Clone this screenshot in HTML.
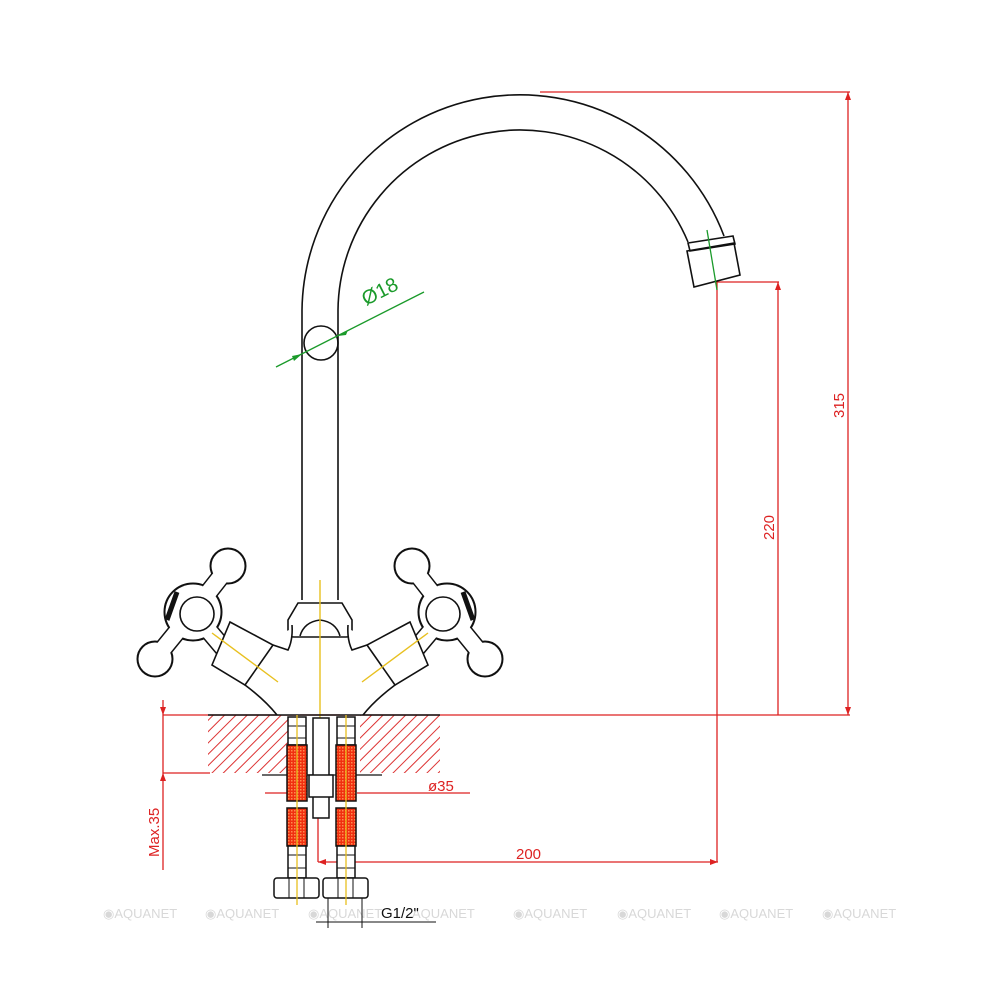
<!DOCTYPE html>
<html><head><style>
html,body{margin:0;padding:0;background:#fff;}
svg{display:block;}
text{font-family:"Liberation Sans",sans-serif;}
</style></head><body>
<svg width="1000" height="1000" viewBox="0 0 1000 1000" xmlns="http://www.w3.org/2000/svg">
<defs>
<pattern id="hatch" patternUnits="userSpaceOnUse" width="8" height="8" patternTransform="rotate(45)">
<line x1="0" y1="0" x2="0" y2="8" stroke="#d33" stroke-width="2"/>
</pattern>
<pattern id="mesh" patternUnits="userSpaceOnUse" width="3" height="3">
<rect width="3" height="3" fill="#f03010"/><rect width="1.5" height="1.5" fill="#ff8a50"/>
</pattern>
</defs>
<rect width="1000" height="1000" fill="#fff"/>

<!-- watermarks -->
<g fill="#d8d8d8" font-size="13">
<text x="103" y="918">◉AQUANET</text><text x="205" y="918">◉AQUANET</text>
<text x="308" y="918">◉AQUANET</text><text x="412" y="918">AQUANET</text>
<text x="513" y="918">◉AQUANET</text><text x="617" y="918">◉AQUANET</text>
<text x="719" y="918">◉AQUANET</text><text x="822" y="918">◉AQUANET</text>
</g>

<!-- hatch -->
<rect x="208" y="715" width="82" height="58" fill="url(#hatch)"/>
<rect x="360" y="715" width="80" height="58" fill="url(#hatch)"/>

<!-- red dims -->
<g stroke="#d22" stroke-width="1.3" fill="none">
<line x1="540" y1="92" x2="850" y2="92"/>
<line x1="848" y1="92" x2="848" y2="715"/>
<line x1="716" y1="282" x2="779" y2="282"/>
<line x1="778" y1="282" x2="778" y2="715"/>
<line x1="163" y1="715" x2="850" y2="715"/>
<line x1="717" y1="282" x2="717" y2="862"/>
<line x1="318" y1="862" x2="718" y2="862"/>
<line x1="318" y1="780" x2="318" y2="862"/>
<line x1="265" y1="793" x2="290" y2="793"/>
<line x1="357" y1="793" x2="470" y2="793"/>
<line x1="163" y1="700" x2="163" y2="870"/>
<line x1="163" y1="773" x2="210" y2="773"/>
</g>
<g fill="#d22" font-size="15">
<text transform="translate(844,418) rotate(-90)">315</text>
<text transform="translate(774,540) rotate(-90)">220</text>
<text x="516" y="859">200</text>
<text x="428" y="791">ø35</text>
<text transform="translate(159,857) rotate(-90)">Max.35</text>
</g>
<g fill="#d22">
<polygon points="848,92 845,100 851,100"/><polygon points="848,715 845,707 851,707"/>
<polygon points="778,282 775,290 781,290"/><polygon points="163,715 160,707 166,707"/>
<polygon points="163,773 160,781 166,781"/><polygon points="718,862 710,859 710,865"/>
<polygon points="318,862 326,859 326,865"/>
</g>

<!-- spout -->
<g stroke="#111" stroke-width="1.6" fill="none">
<path d="M302,600 L302,310 A218,218 0 0 1 724,236"/>
<path d="M338,600 L338,310 A182,182 0 0 1 688,242"/>
<path d="M688,243 L733,236 L735,244 L690,251 Z"/>
<path d="M687,251 L734,243 L740,275 L694,287 Z"/>
<circle cx="321" cy="343" r="17"/>
<path d="M298,603 L342,603 L352,620 L352,632 Q352,637 346,637 L294,637 Q288,637 288,632 L288,620 Z"/>
<path d="M300,636 Q304,622 320,620 Q336,622 340,636"/>
</g>
<!-- green dim -->
<g stroke="#1a9a2a" stroke-width="1.3">
<line x1="276" y1="367" x2="424" y2="292"/>
<line x1="707" y1="230" x2="717" y2="290"/>
</g>
<polygon points="302,354 292,356 294,361" fill="#1a9a2a"/>
<polygon points="338,336 348,330 346,335" fill="#1a9a2a"/>
<text transform="translate(366,306) rotate(-27)" fill="#1a9a2a" font-size="20">Ø18</text>

<!-- handles -->
<g id="hl">
<g stroke="#111" fill="#111" stroke-linecap="round">
<line x1="193" y1="612" x2="226" y2="570" stroke-width="19"/>
<line x1="193" y1="612" x2="158" y2="655" stroke-width="19"/>
<line x1="193" y1="612" x2="225" y2="650" stroke-width="19"/>
<circle cx="228" cy="566" r="18"/><circle cx="155" cy="659" r="18"/>
<circle cx="193" cy="612" r="29"/>
</g>
<g fill="#fff" stroke-linecap="round">
<line x1="193" y1="612" x2="226" y2="570" stroke="#fff" stroke-width="16"/>
<line x1="193" y1="612" x2="158" y2="655" stroke="#fff" stroke-width="16"/>
<line x1="193" y1="612" x2="225" y2="650" stroke="#fff" stroke-width="16"/>
<circle cx="228" cy="566" r="16.5"/><circle cx="155" cy="659" r="16.5"/>
<circle cx="193" cy="612" r="27.5"/>
</g>
<circle cx="197" cy="614" r="17" fill="#fff" stroke="#111" stroke-width="1.6"/>
<path d="M167,620 L177,592" stroke="#111" stroke-width="5"/>
<path d="M212,665 Q250,690 268,705 Q275,712 277,715 L300,715 L300,650 L292,645 Q290,630 300,625" fill="#fff" stroke="none"/>
<path d="M230,622 L273,645 L245,685 L212,665 Z" fill="#fff" stroke="#111" stroke-width="1.6"/>
<path d="M245,685 Q265,700 277,715" fill="none" stroke="#111" stroke-width="1.6"/>
<path d="M273,645 L288,650 Q293,640 292,625" fill="none" stroke="#111" stroke-width="1.6"/>
<line x1="212" y1="633" x2="278" y2="682" stroke="#e8c020" stroke-width="1.4"/>
</g>
<use href="#hl" transform="translate(640,0) scale(-1,1)"/>
<line x1="320" y1="580" x2="320" y2="815" stroke="#e8c020" stroke-width="1.4"/>

<line x1="208" y1="715" x2="440" y2="715" stroke="#111" stroke-width="1.5"/>
<line x1="262" y1="775" x2="382" y2="775" stroke="#111" stroke-width="1.2"/>

<!-- hoses -->
<g stroke="#111" stroke-width="1.5">
<rect x="288" y="717" width="18" height="28" fill="#fff"/>
<rect x="337" y="717" width="18" height="28" fill="#fff"/>
<rect x="287" y="745" width="20" height="56" fill="url(#mesh)"/>
<rect x="336" y="745" width="20" height="56" fill="url(#mesh)"/>
<rect x="287" y="808" width="20" height="38" fill="url(#mesh)"/>
<rect x="336" y="808" width="20" height="38" fill="url(#mesh)"/>
<rect x="288" y="846" width="18" height="32" fill="#fff"/>
<rect x="337" y="846" width="18" height="32" fill="#fff"/>
<rect x="274" y="878" width="45" height="20" rx="3" fill="#fff"/>
<rect x="323" y="878" width="45" height="20" rx="3" fill="#fff"/>
<rect x="313" y="718" width="16" height="100" fill="#fff"/>
<rect x="309" y="775" width="24" height="22" fill="#fff"/>
</g>
<g stroke="#111" stroke-width="1">
<line x1="288" y1="726" x2="306" y2="726"/><line x1="337" y1="726" x2="355" y2="726"/>
<line x1="288" y1="738" x2="306" y2="738"/><line x1="337" y1="738" x2="355" y2="738"/>
<line x1="288" y1="855" x2="306" y2="855"/><line x1="337" y1="855" x2="355" y2="855"/>
<line x1="288" y1="868" x2="306" y2="868"/><line x1="337" y1="868" x2="355" y2="868"/>
<line x1="289" y1="878" x2="289" y2="898"/><line x1="304" y1="878" x2="304" y2="898"/>
<line x1="338" y1="878" x2="338" y2="898"/><line x1="353" y1="878" x2="353" y2="898"/>
<line x1="328" y1="898" x2="328" y2="928"/><line x1="362" y1="898" x2="362" y2="928"/>
<line x1="316" y1="922" x2="436" y2="922"/>
</g>
<line x1="297" y1="715" x2="297" y2="905" stroke="#e8c020" stroke-width="1.3"/>
<line x1="346" y1="715" x2="346" y2="905" stroke="#e8c020" stroke-width="1.3"/>
<text x="381" y="918" font-size="15" fill="#111">G1/2"</text>
</svg>
</body></html>
